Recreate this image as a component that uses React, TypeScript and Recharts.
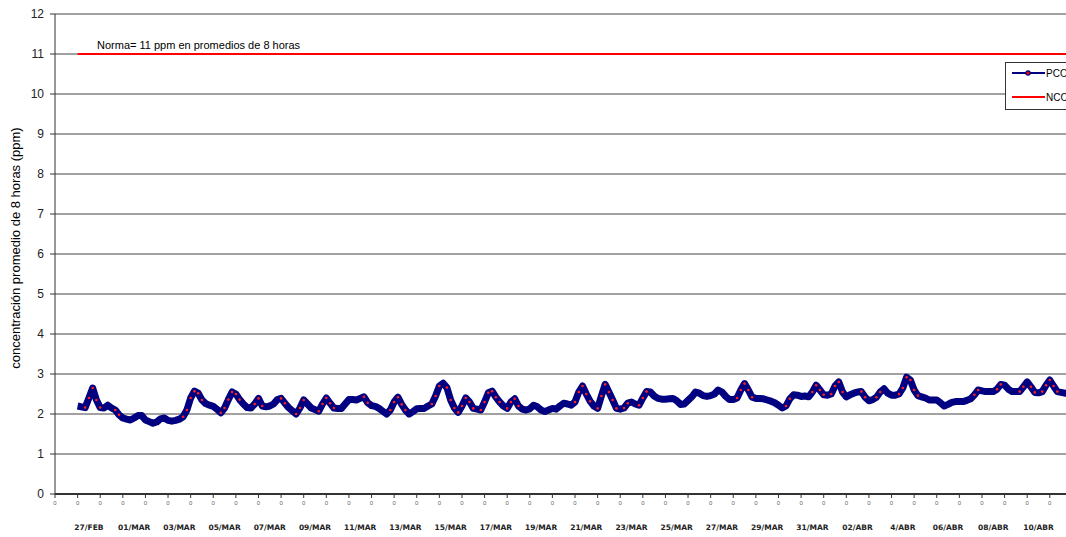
import {
  LineChart,
  Line,
  XAxis,
  YAxis,
  CartesianGrid,
} from 'recharts';

// promedios móviles de 8 horas, un valor cada 4 horas (6 por día)
const pcoFeb = [
  2.2, 2.18, 2.16, 2.4, 2.65, 2.35,
  2.16, 2.15, 2.22, 2.15, 2.1, 1.98,
];

const pcoMar = [
  1.9, 1.87, 1.85, 1.9, 1.96, 1.96,
  1.85, 1.81, 1.77, 1.8, 1.88, 1.9,
  1.84, 1.82, 1.84, 1.87, 1.93, 2.1,
  2.4, 2.57, 2.52, 2.35, 2.26, 2.22,
  2.19, 2.12, 2.03, 2.15, 2.36, 2.55,
  2.5, 2.36, 2.25, 2.16, 2.15, 2.25,
  2.39, 2.2, 2.18, 2.2, 2.25, 2.36,
  2.39, 2.27, 2.16, 2.08, 2.0, 2.15,
  2.35, 2.25, 2.15, 2.11, 2.07, 2.25,
  2.4, 2.27, 2.15, 2.14, 2.14, 2.25,
  2.36, 2.36, 2.35, 2.39, 2.43, 2.28,
  2.21, 2.19, 2.14, 2.07, 2.0, 2.1,
  2.3, 2.42, 2.24, 2.1, 2.0, 2.06,
  2.13, 2.14, 2.14, 2.2, 2.25, 2.45,
  2.7, 2.77, 2.66, 2.35, 2.15, 2.04,
  2.2, 2.4, 2.3, 2.14, 2.12, 2.1,
  2.3, 2.53, 2.57, 2.42, 2.3, 2.2,
  2.14, 2.3, 2.38, 2.2, 2.12, 2.1,
  2.13, 2.22, 2.18, 2.1, 2.06, 2.1,
  2.14, 2.12, 2.2, 2.27, 2.25, 2.22,
  2.3, 2.55, 2.7, 2.5, 2.32, 2.2,
  2.14, 2.45, 2.74, 2.55, 2.35, 2.14,
  2.12, 2.15, 2.27, 2.3, 2.25, 2.22,
  2.4, 2.56, 2.55, 2.45, 2.39, 2.37,
  2.37, 2.38, 2.39, 2.33, 2.24, 2.25,
  2.34, 2.43, 2.55, 2.52, 2.46, 2.44,
  2.46, 2.5, 2.6, 2.55, 2.44, 2.36,
  2.36, 2.4, 2.6, 2.76, 2.6, 2.42,
  2.39, 2.39, 2.38, 2.35, 2.32, 2.28,
  2.22, 2.15, 2.2, 2.38, 2.48, 2.47,
  2.44, 2.45, 2.43, 2.55, 2.72, 2.6,
];

const pcoAbr = [
  2.48, 2.47, 2.5, 2.7, 2.8, 2.55,
  2.43, 2.48, 2.52, 2.55, 2.56, 2.42,
  2.33, 2.36, 2.42, 2.55, 2.63, 2.52,
  2.47, 2.47, 2.5, 2.65, 2.92, 2.85,
  2.6, 2.46, 2.43, 2.4, 2.35, 2.35,
  2.35, 2.28, 2.2, 2.24, 2.29, 2.31,
  2.31, 2.31, 2.34, 2.38, 2.48, 2.6,
  2.58, 2.56, 2.56, 2.56, 2.62, 2.74,
  2.72, 2.62, 2.56, 2.56, 2.56, 2.68,
  2.8, 2.68, 2.54, 2.53, 2.56, 2.72,
  2.85, 2.7, 2.56, 2.54, 2.52, 2.52,
  2.54, 2.58, 2.62, 2.58, 2.55, 2.55,
];

const norma = 11;

const dateLabels = [
  '27/FEB', '01/MAR', '03/MAR', '05/MAR', '07/MAR', '09/MAR', '11/MAR',
  '13/MAR', '15/MAR', '17/MAR', '19/MAR', '21/MAR', '23/MAR', '25/MAR',
  '27/MAR', '29/MAR', '31/MAR', '02/ABR', '4/ABR', '06/ABR', '08/ABR', '10/ABR',
];

const yTicks = [0, 1, 2, 3, 4, 5, 6, 7, 8, 9, 10, 11, 12];

const pco = [...pcoFeb, ...pcoMar, ...pcoAbr];
const data = pco.map((v, i) => ({ t: 1 + i / 6, pco: v, nco: norma }));

const dayTicks = Array.from({ length: 45 }, (_, i) => i);
const dateTicks = dateLabels.map((_, i) => 1.5 + i * 2);

const font = '"Liberation Sans", Arial, sans-serif';

// los marcadores rojos solo asoman donde la curva sube o baja rápido
function PcoDot(props: any) {
  const { cx, cy, index } = props;
  const prev = pco[index - 1] ?? pco[index];
  const next = pco[index + 1] ?? pco[index];
  const slope = Math.max(Math.abs(pco[index] - prev), Math.abs(next - pco[index]));
  if (slope < 0.12 || cx == null) return <g key={index} />;
  return <circle key={index} cx={cx} cy={cy} r={1.3} fill="#ff2020" />;
}

function LegendBox() {
  return (
    <div
      style={{
        position: 'absolute',
        left: 1005,
        top: 62,
        width: 75,
        height: 46,
        border: '1px solid #333',
        background: '#fff',
      }}
    >
      <svg width={75} height={46} style={{ display: 'block' }}>
        <line x1={6} y1={10} x2={39} y2={10} stroke="#000080" strokeWidth={2} />
        <circle cx={22} cy={10} r={2.2} fill="#ff0000" stroke="#000080" strokeWidth={1.2} />
        <text x={40} y={14} fontSize={10} fontFamily={font}>PCO</text>
        <line x1={6} y1={34} x2={39} y2={34} stroke="#ff0000" strokeWidth={2} />
        <text x={40} y={38} fontSize={10} fontFamily={font}>NCO</text>
      </svg>
    </div>
  );
}

export default function App() {
  return (
    <div
      style={{
        position: 'fixed',
        left: 0,
        top: 0,
        width: 1066,
        height: 537,
        overflow: 'hidden',
        background: '#fff',
      }}
    >
      <LineChart
        width={1110}
        height={537}
        data={data}
        margin={{ top: 14, right: 15, bottom: 0, left: 0 }}
      >
        <CartesianGrid horizontal vertical={false} stroke="#444" strokeWidth={1} />
        <XAxis
          dataKey="t"
          type="number"
          domain={[0, 46]}
          ticks={dayTicks}
          interval={0}
          height={14}
          tickFormatter={() => '0'}
          tick={{ fontSize: 6, fill: '#666', fontFamily: font }}
          tickSize={4}
          tickMargin={3}
          axisLine={{ stroke: '#333', strokeWidth: 2 }}
          tickLine={{ stroke: '#333' }}
          allowDataOverflow
        />
        <XAxis
          xAxisId="fechas"
          dataKey="t"
          type="number"
          domain={[0, 46]}
          ticks={dateTicks}
          interval={0}
          height={29}
          tickFormatter={(_v: number, i: number) => dateLabels[i]}
          tick={{ fontSize: 7.5, fill: '#222', fontWeight: 'bold', fontFamily: '"DejaVu Sans", sans-serif' }}
          tickSize={0}
          tickMargin={17}
          axisLine={false}
          tickLine={false}
          allowDataOverflow
        />
        <YAxis
          type="number"
          domain={[0, 12]}
          ticks={yTicks}
          interval={0}
          width={55}
          tick={{ fontSize: 12, fill: '#222', fontFamily: font }}
          tickSize={5}
          tickMargin={6}
          axisLine={{ stroke: '#333' }}
          tickLine={{ stroke: '#333' }}
        />
        <Line
          dataKey="nco"
          type="linear"
          stroke="#ff0000"
          strokeWidth={2}
          dot={false}
          isAnimationActive={false}
        />
        <Line
          dataKey="pco"
          type="linear"
          stroke="#000080"
          strokeWidth={7}
          strokeLinejoin="round"
          dot={PcoDot}
          isAnimationActive={false}
        />
      </LineChart>
      <LegendBox />
      <div
        style={{
          position: 'absolute',
          left: 97,
          top: 39,
          fontFamily: font,
          fontSize: 11,
          color: '#000',
          whiteSpace: 'nowrap',
        }}
      >
        Norma= 11 ppm en promedios de 8 horas
      </div>
      <div
        style={{
          position: 'absolute',
          left: 15,
          top: 248,
          transform: 'translate(-50%, -50%) rotate(-90deg)',
          fontFamily: font,
          fontSize: 13,
          color: '#000',
          whiteSpace: 'nowrap',
        }}
      >
        concentración promedio de 8 horas (ppm)
      </div>
    </div>
  );
}
